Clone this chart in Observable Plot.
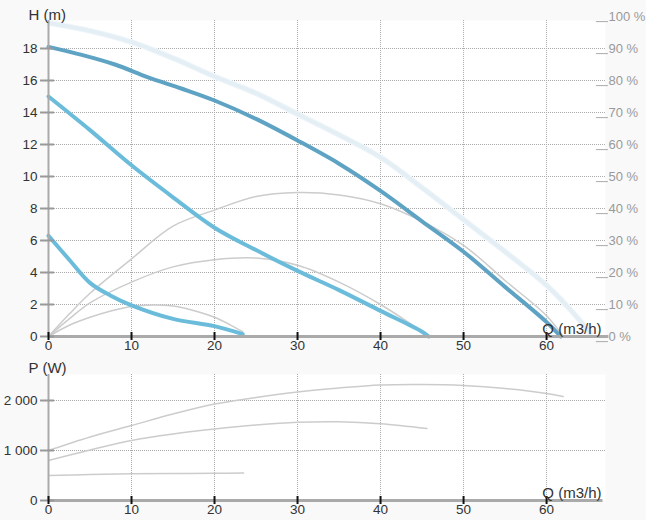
<!DOCTYPE html>
<html><head><meta charset="utf-8">
<script src="https://cdn.jsdelivr.net/npm/d3@7"></script>
<script src="https://cdn.jsdelivr.net/npm/@observablehq/plot@0.6"></script>
<style>
body{margin:0;background:#f9f9f9;}
#c{position:relative;width:646px;height:520px;background:#f9f9f9;overflow:hidden;}
#c svg{position:absolute;left:0;overflow:visible;}
</style></head><body><div id="c"></div>
<script>
// ---- data ----
const xTicks = [0, 10, 20, 30, 40, 50, 60];
const hTicks = [0, 2, 4, 6, 8, 10, 12, 14, 16, 18];
const pctTicks = [0, 10, 20, 30, 40, 50, 60, 70, 80, 90, 100];
const pTicks = [0, 1000, 2000];

// pale max curve
const maxQ = [0, 5, 10, 15, 20, 25, 30, 35, 40, 45, 50, 55, 60, 63, 65.3];
const maxH = [19.6, 19.1, 18.4, 17.4, 16.25, 15.2, 13.9, 12.6, 11.2, 9.3, 7.3, 5.3, 3.2, 1.6, 0.2];
// pump curves H(Q)
const h1Q = [0, 4, 8, 12, 16, 20, 25, 30, 35, 40, 45, 50, 55, 60, 61.7];
const h1H = [18.1, 17.6, 17.0, 16.2, 15.5, 14.75, 13.6, 12.25, 10.8, 9.1, 7.2, 5.3, 3.1, 0.9, 0];
const h2Q = [0, 5, 10, 15, 20, 25, 30, 35, 40, 45, 45.8];
const h2H = [15, 12.9, 10.7, 8.7, 6.8, 5.4, 4.1, 2.9, 1.6, 0.3, 0];
const h3Q = [0, 2.5, 5, 7.5, 10, 15, 20, 23.4];
const h3H = [6.3, 4.8, 3.35, 2.55, 1.95, 1.1, 0.65, 0.15];
// efficiency curves (in H units: % / 5)
const e1Q = [0, 2.5, 5, 10, 15, 20, 25, 30, 35, 40, 45, 50, 55, 60, 62];
const e1H = [0, 1.4, 2.7, 4.85, 6.9, 7.9, 8.75, 9.0, 8.85, 8.3, 7.2, 5.7, 3.5, 1.3, 0];
const e2Q = [0, 2.5, 5, 10, 15, 20, 25, 30, 35, 40, 45.3];
const e2H = [0, 1.1, 2.1, 3.4, 4.35, 4.8, 4.9, 4.45, 3.4, 2.0, 0.2];
const e3Q = [0, 2.5, 5, 7.5, 10, 12.5, 15, 18, 20, 22, 23.4];
const e3H = [0, 0.7, 1.2, 1.6, 1.88, 1.97, 1.9, 1.55, 1.2, 0.7, 0.3];
// power curves P(Q)
const p1Q = [0, 5, 10, 15, 20, 25, 30, 35, 40, 45, 50, 55, 60, 62];
const p1P = [1000, 1270, 1500, 1730, 1930, 2060, 2170, 2250, 2310, 2320, 2300, 2240, 2140, 2080];
const p2Q = [0, 5, 10, 15, 20, 25, 30, 35, 40, 45.6];
const p2P = [800, 1010, 1200, 1330, 1430, 1510, 1565, 1575, 1535, 1440];
const p3Q = [0, 5, 10, 15, 20, 23.5];
const p3P = [500, 520, 533, 540, 545, 548];

const zip = (q, v) => q.map((d, i) => ({q: d, v: v[i]}));
const font = "'Liberation Sans', Arial, sans-serif";
const grey = "#cccccc";
const fmtP = d => d3.format(",")(d).replace(/,/g, " ");

const topChart = Plot.plot({
  width: 646, height: 360,
  marginLeft: 48, marginRight: 41, marginTop: 20, marginBottom: 24,
  style: {fontFamily: font, fontSize: "13.5px", color: "#333", background: "transparent", overflow: "visible"},
  x: {domain: [0, 67.1], ticks: xTicks, tickSize: 0, tickPadding: 4, label: null},
  y: {domain: [0, 19.75], ticks: hTicks, tickSize: 0, tickPadding: 11, label: null},
  marks: [
    Plot.frame({fill: "white", stroke: "none"}),
    Plot.ruleY(hTicks.filter(d => d > 0), {stroke: "#aaa", strokeDasharray: "1,1"}),
    Plot.ruleX(xTicks.filter(d => d > 0), {stroke: "#aaa", strokeDasharray: "1,1"}),
    Plot.line(zip(maxQ, maxH), {x: "q", y: "v", stroke: "#f0f6fa", strokeWidth: 6, curve: "catmull-rom"}),
    Plot.line(zip(maxQ, maxH), {x: "q", y: "v", stroke: "#e4eef5", strokeWidth: 4, strokeDasharray: "1,2", curve: "catmull-rom"}),
    Plot.line(zip(e1Q, e1H), {x: "q", y: "v", stroke: grey, strokeWidth: 1.5, curve: "catmull-rom"}),
    Plot.line(zip(e2Q, e2H), {x: "q", y: "v", stroke: grey, strokeWidth: 1.5, curve: "catmull-rom"}),
    Plot.line(zip(e3Q, e3H), {x: "q", y: "v", stroke: grey, strokeWidth: 1.5, curve: "catmull-rom"}),
    Plot.line(zip(h1Q, h1H), {x: "q", y: "v", stroke: "#5ea3c3", strokeWidth: 4, curve: "catmull-rom"}),
    Plot.line(zip(h2Q, h2H), {x: "q", y: "v", stroke: "#6bbcdb", strokeWidth: 4, curve: "catmull-rom"}),
    Plot.line(zip(h3Q, h3H), {x: "q", y: "v", stroke: "#6bbcdb", strokeWidth: 4, curve: "catmull-rom"}),
    Plot.ruleX([0], {stroke: "#aaa", strokeWidth: 2}),
    Plot.ruleY([0], {x1: 0, x2: 67.5, stroke: "#aaa", strokeWidth: 3}),
    Plot.ruleY(hTicks, {x1: -0.96, x2: 0.72, stroke: "#999", strokeWidth: 2}),
    Plot.ruleX(xTicks, {y1: -0.25, y2: 0.25, stroke: "#111", strokeWidth: 2}),
    // right efficiency axis: small offset ticks + labels
    Plot.ruleY(pctTicks, {y: d => d / 5 - 0.32, x1: 66.0, x2: 67.45, stroke: "#aaa", strokeWidth: 1}),
    Plot.text(pctTicks, {y: d => d / 5, text: d => d + " %", frameAnchor: "right", dx: 3, textAnchor: "start", lineAnchor: "middle", fill: "#999", fontSize: 13}),
    Plot.text(["H (m)"], {text: d => d, frameAnchor: "top-left", dx: -20, dy: -5, textAnchor: "start", lineAnchor: "middle", fontSize: 15, fill: "#333"}),
    Plot.text(["Q (m3/h)"], {text: d => d, frameAnchor: "bottom-right", dx: -4, dy: -7, textAnchor: "end", lineAnchor: "middle", fontSize: 15, fill: "#333"})
  ]
});
topChart.style.top = "0px";

const bottomChart = Plot.plot({
  width: 646, height: 160,
  marginLeft: 48, marginRight: 41, marginTop: 14, marginBottom: 20,
  style: {fontFamily: font, fontSize: "13.5px", color: "#333", background: "transparent", overflow: "visible"},
  x: {domain: [0, 67.1], ticks: xTicks, tickSize: 0, tickPadding: 4, label: null},
  y: {domain: [0, 2520], ticks: pTicks, tickSize: 0, tickPadding: 11, tickFormat: fmtP, label: null},
  marks: [
    Plot.frame({fill: "white", stroke: "none"}),
    Plot.ruleY(pTicks.filter(d => d > 0), {stroke: "#aaa", strokeDasharray: "1,1"}),
    Plot.ruleX(xTicks.filter(d => d > 0), {stroke: "#aaa", strokeDasharray: "1,1"}),
    Plot.line(zip(p1Q, p1P), {x: "q", y: "v", stroke: grey, strokeWidth: 1.5, curve: "catmull-rom"}),
    Plot.line(zip(p2Q, p2P), {x: "q", y: "v", stroke: grey, strokeWidth: 1.5, curve: "catmull-rom"}),
    Plot.line(zip(p3Q, p3P), {x: "q", y: "v", stroke: grey, strokeWidth: 1.5, curve: "catmull-rom"}),
    Plot.ruleX([0], {stroke: "#aaa", strokeWidth: 2}),
    Plot.ruleY([0], {x1: 0, x2: 66.8, stroke: "#aaa", strokeWidth: 3}),
    Plot.ruleY(pTicks, {x1: -0.96, x2: 0.72, stroke: "#999", strokeWidth: 2}),
    Plot.ruleX(xTicks, {y1: -80, y2: 80, stroke: "#111", strokeWidth: 2}),
    Plot.text(["P (W)"], {text: d => d, frameAnchor: "top-left", dx: -20, dy: -6, textAnchor: "start", lineAnchor: "middle", fontSize: 15, fill: "#333"}),
    Plot.text(["Q (m3/h)"], {text: d => d, frameAnchor: "bottom-right", dx: -4, dy: -7, textAnchor: "end", lineAnchor: "middle", fontSize: 15, fill: "#333"})
  ]
});
bottomChart.style.top = "360px";

const c = document.getElementById("c");
c.appendChild(topChart);
c.appendChild(bottomChart);
</script></body></html>
